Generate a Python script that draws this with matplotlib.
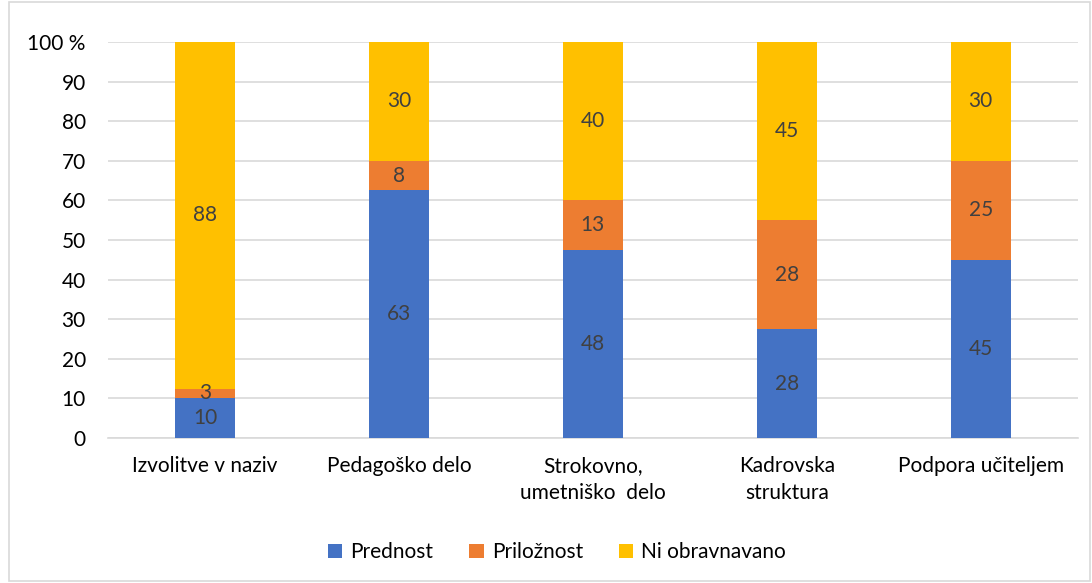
import matplotlib
matplotlib.use("Agg")
import matplotlib.pyplot as plt
from matplotlib.patches import Rectangle

plt.rcParams['font.family'] = ['Lato', 'DejaVu Sans']

categories = ["Izvolitve v naziv", "Pedagoško delo", "Strokovno,\numetniško  delo",
              "Kadrovska\nstruktura", "Podpora učiteljem"]
prednost = [10, 62.5, 47.5, 27.5, 45]
priloznost = [2.5, 7.5, 12.5, 27.5, 25]
ni_obravnavano = [87.5, 30, 40, 45, 30]
series_names = ["Prednost", "Priložnost", "Ni obravnavano"]
colors = ["#4472C4", "#ED7D31", "#FFC000"]
yticks = [0, 10, 20, 30, 40, 50, 60, 70, 80, 90, 100]
ytick_labels = ["0", "10", "20", "30", "40", "50", "60", "70", "80", "90", "100 %"]

fig = plt.figure(figsize=(10.92, 5.83), dpi=100)
ax = fig.add_axes([0.0989, 0.2487, 0.888, 0.6793])

x = list(range(len(categories)))
bottom = [0] * len(categories)
fs = 15
for name, vals, c in zip(series_names, [prednost, priloznost, ni_obravnavano], colors):
    bars = ax.bar(x, vals, width=0.31, bottom=bottom, color=c, label=name, zorder=3)
    for xi, b, v in zip(x, bottom, vals):
        ax.text(xi, b + v / 2, str(int(v + 0.5)), ha='center', va='center',
                fontsize=fs, color='#404040', zorder=4)
    bottom = [b + v for b, v in zip(bottom, vals)]

ax.set_xlim(-0.5, len(categories) - 0.5)
ax.set_ylim(0, 100)
ax.set_yticks(yticks)
ax.set_yticklabels(ytick_labels, fontsize=fs)
ax.set_xticks(x)
ax.set_xticklabels(categories, fontsize=fs, va='top', linespacing=1.45)
ax.tick_params(axis='y', length=0, pad=16)
ax.tick_params(axis='x', length=0, pad=13)
ax.grid(axis='y', color='#D9D9D9', linewidth=1.2, zorder=0)
for s in ['top', 'right', 'left']:
    ax.spines[s].set_visible(False)
ax.spines['bottom'].set_color('#D9D9D9')
ax.spines['bottom'].set_linewidth(1.2)

leg = fig.legend(loc='center', bbox_to_anchor=(0.51, 0.053), ncol=3, frameon=False,
                 fontsize=fs, handlelength=0.7, handleheight=0.7, handletextpad=0.4,
                 columnspacing=1.7)

fig.patches.append(Rectangle((0.008, 0.003), 0.99, 0.994, transform=fig.transFigure,
                             fill=False, edgecolor='#D9D9D9', linewidth=1.2))

fig.savefig("out.png", dpi=100)
